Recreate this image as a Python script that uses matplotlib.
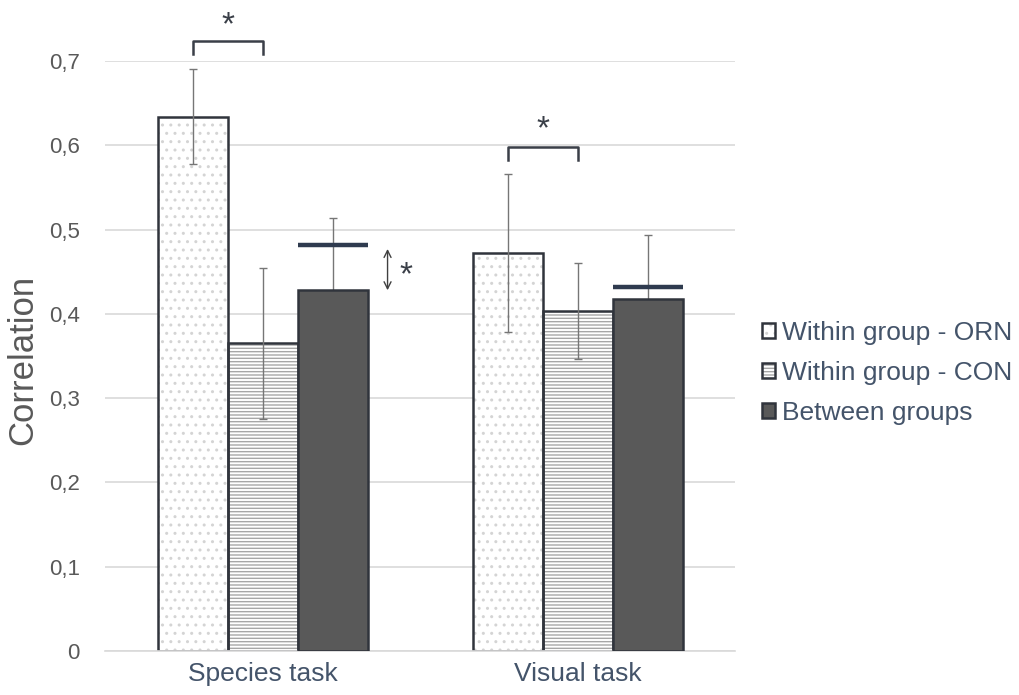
import numpy as np
import matplotlib
matplotlib.use("Agg")
import matplotlib.pyplot as plt
from matplotlib.patches import Patch
from matplotlib.ticker import FuncFormatter
from matplotlib.legend_handler import HandlerTuple

plt.rcParams['font.family'] = ['Liberation Sans', 'DejaVu Sans']
plt.rcParams['hatch.linewidth'] = 1.0

# data ############################################################################################
tasks = ["Species task", "Visual task"]
series = ["Within group - ORN", "Within group - CON", "Between groups"]
orn_mean = [0.634, 0.472]
con_mean = [0.365, 0.403]
between_mean = [0.428, 0.418]
orn_err = [0.056, 0.094]
con_err = [0.090, 0.057]
between_err = [0.086, 0.075]
between_expected = [0.482, 0.432]      # horizontal markers above the between-group bars

# styling #########################################################################################
EDGE = "#30343c"
GRID = "#d9d9d9"
TICK_GRAY = "#595959"
TEXT_SLATE = "#44546a"
NAVY = "#2f3b4f"
BAR_W = 70 / 315

fig = plt.figure(figsize=(10.19, 6.95), dpi=100)
ax = fig.add_axes([105 / 1019, 44 / 695, 630 / 1019, 590 / 695])

x = np.arange(len(tasks))
means = [orn_mean, con_mean, between_mean]
errs = [orn_err, con_err, between_err]
fills = ["white", "white", "#595959"]
hatches = ["..", "-----", None]
hatch_cols = ["#d4d4d4", "#a6a6a6", "#595959"]
offsets = [-BAR_W, 0, BAR_W]

handles = []
for i in range(3):
    xs = x + offsets[i]
    z = 4 if i == 2 else 2          # dark bars sit over the lower half of their error bars
    ax.bar(xs, means[i], BAR_W, color=fills[i], hatch=hatches[i],
           edgecolor=hatch_cols[i], linewidth=0, zorder=z)
    ax.bar(xs, means[i], BAR_W, fill=False, edgecolor=EDGE, linewidth=1.8, zorder=z + 0.1)
    ax.errorbar(xs, means[i], yerr=errs[i], fmt="none", ecolor="#767676",
                elinewidth=1.0, capsize=3, capthick=1.0, zorder=3)
    h_fill = Patch(facecolor=fills[i], hatch=hatches[i], edgecolor=hatch_cols[i], linewidth=0)
    h_edge = Patch(fill=False, edgecolor=EDGE, linewidth=1.8)
    handles.append((h_fill, h_edge))

# expected between-group levels
for xi, v in zip(x, between_expected):
    ax.plot([xi + BAR_W / 2, xi + 1.5 * BAR_W], [v, v], color=NAVY, lw=3.2,
            solid_capstyle="butt", zorder=5)

# significance brackets between ORN and CON
def bracket(x0, x1, y_top, y_leg, star_y):
    ax.plot([x0, x0, x1, x1], [y_leg, y_top, y_top, y_leg], color="#3a3f48", lw=1.8,
            solid_joinstyle="round", clip_on=False, zorder=6)
    ax.text((x0 + x1) / 2, star_y, "*", ha="center", va="center", fontsize=24,
            color="#3a3f48", clip_on=False)

bracket(x[0] - BAR_W, x[0], 0.724, 0.708, 0.742)
bracket(x[1] - BAR_W, x[1], 0.598, 0.582, 0.618)

# double arrow between expected line and between-group bar
ax.annotate("", xy=(x[0] + 0.397, between_mean[0]), xytext=(x[0] + 0.397, between_expected[0] - 0.005),
            arrowprops=dict(arrowstyle="<->,head_length=0.5,head_width=0.25", color="#404040",
                            lw=1.0, shrinkA=0, shrinkB=0))
ax.text(x[0] + 0.455, 0.445, "*", ha="center", va="center", fontsize=24, color="#3a3f48")

# axes ###########################################################################################
ax.set_xlim(-0.5, 1.5)
ax.set_ylim(0, 0.7)
ax.set_yticks(np.arange(0, 0.71, 0.1))
ax.yaxis.set_major_formatter(FuncFormatter(lambda v, p: "0" if abs(v) < 1e-9 else f"{v:.1f}".replace(".", ",")))
ax.set_xticks(x)
ax.set_xticklabels(tasks)
ax.tick_params(axis="y", length=0, pad=18, labelsize=16, labelcolor=TICK_GRAY)
ax.tick_params(axis="x", length=0, pad=8, labelsize=19, labelcolor=TEXT_SLATE)
ax.grid(axis="y", color=GRID, lw=1.2, zorder=0)
ax.set_axisbelow(True)
for s in ["top", "right", "left"]:
    ax.spines[s].set_visible(False)
ax.spines["bottom"].set_color(GRID)
ax.spines["bottom"].set_linewidth(1.2)

ax.set_ylabel("Correlation", fontsize=25, color=TICK_GRAY)
ax.yaxis.set_label_coords(-0.104, 0.493)

leg = ax.legend(handles, series, handler_map={tuple: HandlerTuple(ndivide=1)},
                loc="center left", bbox_to_anchor=(762 / 1019, (695 - 373) / 695),
                bbox_transform=fig.transFigure, frameon=False, fontsize=19,
                handlelength=0.5, handleheight=0.5, handletextpad=0.25,
                labelspacing=0.6, borderaxespad=0, borderpad=0)
for t in leg.get_texts():
    t.set_color(TEXT_SLATE)

fig.savefig("out.png", dpi=100)
